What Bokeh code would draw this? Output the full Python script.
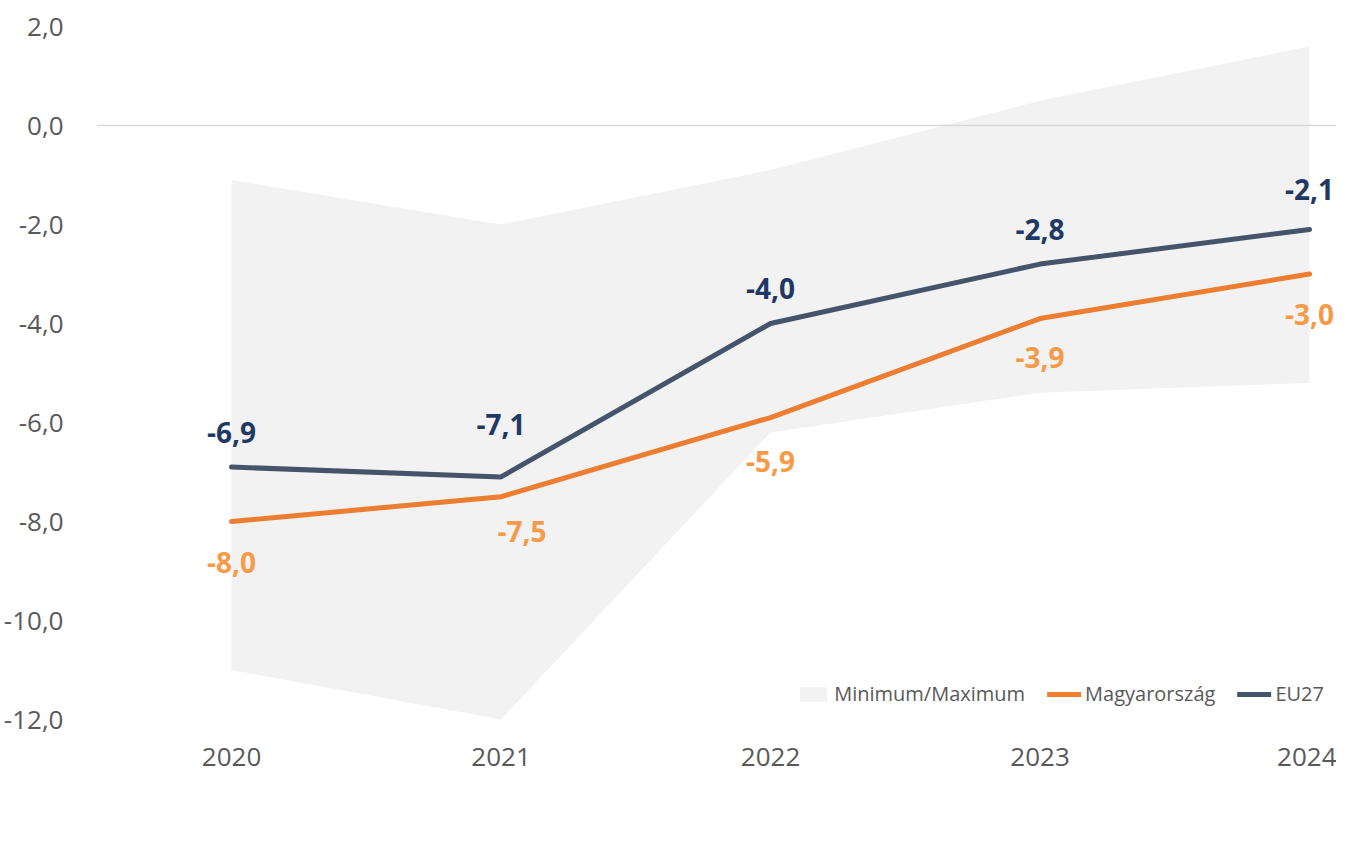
from bokeh.plotting import figure
from bokeh.models import (ColumnDataSource, FixedTicker, CustomJSTickFormatter, Span,
                          Legend, LegendItem, Range1d)
from bokeh.core.properties import value
from bokeh.embed import file_html
from bokeh.resources import INLINE

years = [2020, 2021, 2022, 2023, 2024]
band_min = [-11.0, -12.0, -6.2, -5.4, -5.2]
band_max = [-1.1, -2.0, -0.9, 0.5, 1.6]
hungary = [-8.0, -7.5, -5.9, -3.9, -3.0]
eu27 = [-6.9, -7.1, -4.0, -2.8, -2.1]
y_ticks = [-12, -10, -8, -6, -4, -2, 0, 2]

def fmt(v):
    return ("%.1f" % v).replace(".", ",")

FONT = "Open Sans"
TICK_COLOR = "#595959"

p = figure(frame_width=1240, frame_height=693, min_border_left=89, min_border_top=26,
           min_border_right=0, min_border_bottom=120, output_backend="svg",
           toolbar_location=None, x_range=Range1d(2019.499, 2024.100),
           y_range=Range1d(-12.0, 2.0), outline_line_color=None)
p.grid.visible = False
p.background_fill_color = "white"
p.border_fill_color = "white"

# axes
for ax in (p.xaxis, p.yaxis):
    ax.axis_line_color = None
    ax.major_tick_line_color = None
    ax.minor_tick_line_color = None
    ax.major_label_text_font = FONT
    ax.major_label_text_font_size = "26px"
    ax.major_label_text_color = TICK_COLOR
p.xaxis.ticker = FixedTicker(ticks=years)
p.xaxis.formatter = CustomJSTickFormatter(code="return tick.toFixed(0);")
p.xaxis.major_label_standoff = 22
p.yaxis.ticker = FixedTicker(ticks=y_ticks)
p.yaxis.formatter = CustomJSTickFormatter(code="return tick.toFixed(1).replace('.', ',');")
p.yaxis.major_label_standoff = 27

band = p.varea(x=years, y1=band_min, y2=band_max, fill_color="#F2F2F2")
p.add_layout(Span(location=0, dimension="width", line_color="#D9D9D9", line_width=1.5))

l_hu = p.line(years, hungary, line_color="#ED7D31", line_width=5, line_cap="round", line_join="round")
l_eu = p.line(years, eu27, line_color="#44546A", line_width=5, line_cap="round", line_join="round")

# data labels
hu_dx = [0, 21, 0, 0, 0]
hu_dy = [41, 35, 44, 39, 40]
eu_dx = [0, 0, 0, 0, 0]
eu_dy = [-35, -52, -35, -35, -40]
src_hu = ColumnDataSource(dict(x=years, y=hungary, t=[fmt(v) for v in hungary], dx=hu_dx, dy=hu_dy))
src_eu = ColumnDataSource(dict(x=years, y=eu27, t=[fmt(v) for v in eu27], dx=eu_dx, dy=eu_dy))
p.text(x="x", y="y", text="t", x_offset="dx", y_offset="dy", source=src_hu,
       text_font=value(FONT), text_font_size="28px", text_font_style="bold",
       text_color="#F79A48", text_align="center", text_baseline="middle")
p.text(x="x", y="y", text="t", x_offset="dx", y_offset="dy", source=src_eu,
       text_font=value(FONT), text_font_size="28px", text_font_style="bold",
       text_color="#1F3864", text_align="center", text_baseline="middle")

legend = Legend(items=[LegendItem(label="Minimum/Maximum", renderers=[band]),
                       LegendItem(label="Magyarország", renderers=[l_hu]),
                       LegendItem(label="EU27", renderers=[l_eu])],
                orientation="horizontal", location="bottom_right",
                label_text_font=FONT, label_text_font_size="20px", label_text_color=TICK_COLOR,
                glyph_width=34, glyph_height=18, label_standoff=4, spacing=22,
                padding=0, margin=12, border_line_color=None, background_fill_alpha=0)
p.add_layout(legend, "center")

open("out.html", "w").write(file_html(p, INLINE))
